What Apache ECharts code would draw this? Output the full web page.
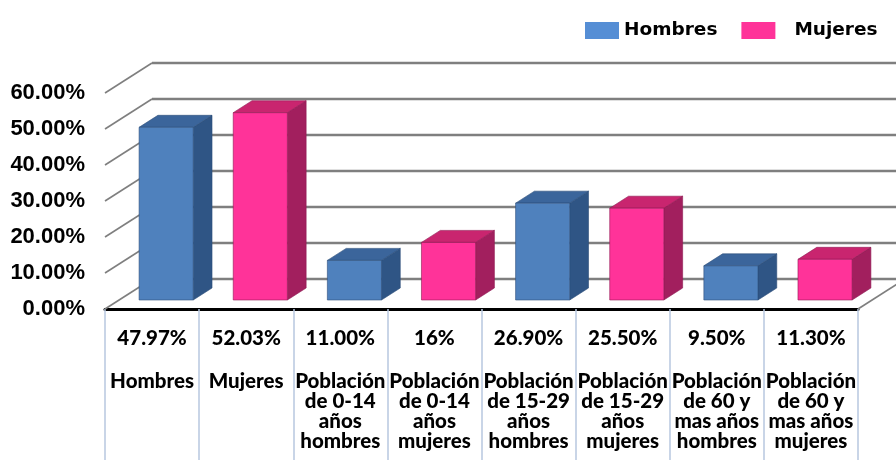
<!DOCTYPE html>
<html>
<head>
<meta charset="utf-8">
<script src="https://cdn.jsdelivr.net/npm/echarts@6/dist/echarts.min.js"></script>
<style>
  html, body { margin: 0; padding: 0; background: #fff; }
  #chart { width: 896px; height: 460px; }
</style>
</head>
<body>
<div id="chart"></div>
<script>
"use strict";

var categories = [
	'Hombres',
	'Mujeres',
	'Población\nde 0-14\naños\nhombres',
	'Población\nde 0-14\naños\nmujeres',
	'Población\nde 15-29\naños\nhombres',
	'Población\nde 15-29\naños\nmujeres',
	'Población\nde 60 y\nmas años\nhombres',
	'Población\nde 60 y\nmas años\nmujeres'
];
var values = [47.97, 52.03, 11.00, 16, 26.90, 25.50, 9.50, 11.30];
var valueLabels = ['47.97%', '52.03%', '11.00%', '16%', '26.90%', '25.50%', '9.50%', '11.30%'];
var seriesOf = ['Hombres', 'Mujeres', 'Hombres', 'Mujeres', 'Hombres', 'Mujeres', 'Hombres', 'Mujeres'];
var yTicks = [0, 10, 20, 30, 40, 50, 60];

// depth of the 3d box (front plane -> back wall)
var DX = 47, DY = -30;

var colors = {
	Hombres: {front: '#4f81bd', top: '#3b659b', side: '#2f5585', edge: '#2b4d78', legend: '#558ed5'},
	Mujeres: {front: '#ff3399', top: '#c9256f', side: '#a21f5e', edge: '#8e1a52', legend: '#ff3399'}
};

function seriesData(name) {
	var d = [];
	for (var i = 0; i < values.length; i++) {
		if (seriesOf[i] === name) {
			d.push([i, values[i]]);
		}
	}
	return d;
}

function renderBar(params, api) {
	var idx = api.value(0),
		top = api.coord([idx, api.value(1)]),
		base = api.coord([idx, 0]),
		band = api.size([1, 0])[0],
		w = band * 0.575,
		x0 = top[0] - w / 2 + DX * 0.3,
		yt = top[1] + DY * 0.3,
		yb = base[1] + DY * 0.3,
		dx = DX * 0.4,
		dy = DY * 0.4,
		c = colors[params.seriesName];
	return {
		type: 'group',
		children: [
			{type: 'polygon', shape: {points: [[x0 + w, yt], [x0 + w + dx, yt + dy], [x0 + w + dx, yb + dy], [x0 + w, yb]]},
				style: {fill: c.side, stroke: c.edge, lineWidth: 0.6}},
			{type: 'polygon', shape: {points: [[x0, yt], [x0 + w, yt], [x0 + w + dx, yt + dy], [x0 + dx, yt + dy]]},
				style: {fill: c.top, stroke: c.edge, lineWidth: 0.6}},
			{type: 'rect', shape: {x: x0, y: yt, width: w, height: yb - yt},
				style: {fill: c.front, stroke: c.edge, lineWidth: 0.6}}
		]
	};
}

function renderDiagonal(params, api) {
	var v = api.value(0),
		band = api.size([1, 0])[0],
		left = api.coord([0, v]),
		xl = left[0] - band / 2,
		lines = [{
			type: 'line',
			shape: {x1: xl, y1: left[1], x2: xl + DX, y2: left[1] + DY},
			style: {stroke: '#7f7f7f', lineWidth: 1.6}
		}];
	if (v === 0) {
		var right = api.coord([categories.length - 1, 0]),
			xr = right[0] + band / 2;
		lines.push({
			type: 'line',
			shape: {x1: xr, y1: right[1], x2: xr + DX, y2: right[1] + DY},
			style: {stroke: '#7f7f7f', lineWidth: 1.6}
		});
	}
	return {type: 'group', children: lines};
}

var chart = echarts.init(document.getElementById('chart'));

chart.setOption({
	animation: false,
	backgroundColor: '#ffffff',
	legend: {
		left: 580,
		top: 16,
		icon: 'rect',
		itemWidth: 34,
		itemHeight: 17,
		itemGap: 24,
		textStyle: {fontFamily: 'DejaVu Sans', fontWeight: 'bold', fontSize: 18.5, color: '#000'},
		data: [
			{name: 'Hombres', itemStyle: {color: colors.Hombres.legend}},
			{name: 'Mujeres', itemStyle: {color: colors.Mujeres.legend}, textStyle: {padding: [0, 0, 0, 14]}}
		]
	},
	grid: [
		{left: 105, width: 753, top: 93, height: 216},
		{left: 152, right: 0, top: 63, height: 216}
	],
	xAxis: [{
		type: 'category',
		gridIndex: 0,
		data: categories,
		axisLine: {lineStyle: {color: '#000', width: 3}},
		axisTick: {show: true, interval: 0, length: 152, lineStyle: {color: '#b8c7e0', width: 1.5}},
		axisLabel: {
			interval: 0,
			margin: -4,
			formatter: function (name, i) {
				var lines = name.split('\n').map(function (s) { return '{n|' + s + '}'; });
				return '{v|' + valueLabels[i] + '}\n' + lines.join('\n');
			},
			rich: {
				v: {fontFamily: 'Lato', fontWeight: 900, fontSize: 20.5, lineHeight: 66, color: '#000'},
				n: {fontFamily: 'Lato', fontWeight: 900, fontSize: 20.5, lineHeight: 20, color: '#000'}
			}
		}
	}, {
		type: 'value',
		gridIndex: 1,
		show: false
	}],
	yAxis: [{
		type: 'value',
		gridIndex: 0,
		min: 0,
		max: 60,
		interval: 10,
		axisLine: {show: false},
		axisTick: {show: false},
		splitLine: {show: false},
		axisLabel: {
			margin: 20,
			fontFamily: 'Liberation Sans',
			fontWeight: 'bold',
			fontSize: 22,
			color: '#000',
			formatter: function (v) { return v.toFixed(2) + '%'; }
		}
	}, {
		type: 'value',
		gridIndex: 1,
		min: 0,
		max: 60,
		interval: 10,
		axisLine: {show: false},
		axisTick: {show: false},
		axisLabel: {show: false},
		splitLine: {lineStyle: {color: '#7f7f7f', width: 2.4}}
	}],
	series: [{
		type: 'custom',
		name: 'walls',
		xAxisIndex: 0,
		yAxisIndex: 0,
		clip: false,
		silent: true,
		renderItem: renderDiagonal,
		encode: {y: 0},
		data: yTicks.map(function (t) { return [t]; })
	}, {
		type: 'custom',
		name: 'Hombres',
		xAxisIndex: 0,
		yAxisIndex: 0,
		clip: false,
		itemStyle: {color: colors.Hombres.front},
		renderItem: renderBar,
		encode: {x: 0, y: 1},
		data: seriesData('Hombres')
	}, {
		type: 'custom',
		name: 'Mujeres',
		xAxisIndex: 0,
		yAxisIndex: 0,
		clip: false,
		itemStyle: {color: colors.Mujeres.front},
		renderItem: renderBar,
		encode: {x: 0, y: 1},
		data: seriesData('Mujeres')
	}]
});
</script>
</body>
</html>
